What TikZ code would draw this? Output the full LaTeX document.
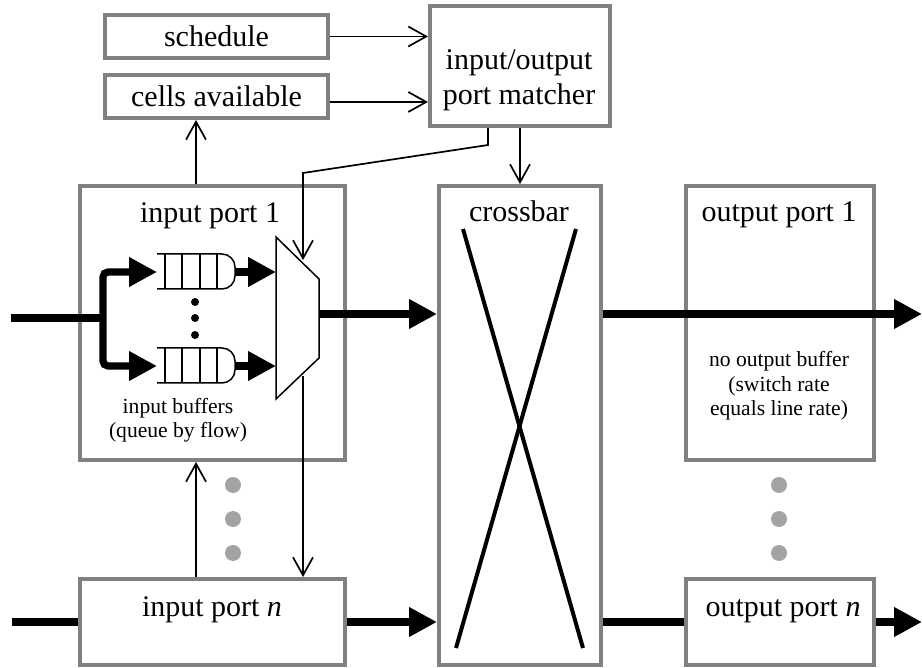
\documentclass[tikz,border=0pt]{standalone}
\usepackage{fontspec}
\setmainfont{Liberation Serif}
\usepackage{xcolor}
\usetikzlibrary{arrows.meta}
\definecolor{boxgray}{HTML}{808080}
\definecolor{dotgray}{HTML}{A3A3A3}
\tikzset{
  portbox/.style 2 args={draw=boxgray,line width=2pt,fill=white,inner sep=0pt,
    minimum width=#1*0.5pt,minimum height=#2*0.5pt,font=\fontsize{15}{17.5}\selectfont},
  title/.style={anchor=base,inner sep=0pt,font=\fontsize{15}{17.5}\selectfont},
  smalltext/.style={anchor=center,inner sep=0pt,align=center,font=\fontsize{10.8}{12.2}\selectfont},
  flow/.style={line width=3.6pt,-{Triangle[length=14pt,width=14pt]}},
  flowplain/.style={line width=3.6pt},
  ctrl/.style={line width=0.85pt,-{Straight Barb[length=9pt,width=10pt]}},
  thinline/.style={line width=0.75pt}
}
\begin{document}
\begin{tikzpicture}[x=0.5pt,y=-0.5pt]
  \useasboundingbox (0,0) rectangle (922,668);

  % Boxes
  \node[portbox={223}{43}] (schedule) at (216.5,36.5) {schedule};
  \node[portbox={223}{43}] (cells) at (216.5,96.5) {cells available};
  \node[portbox={180}{120}] (matcher) at (520,66) {};
  \node[portbox={265}{274}] (inport1) at (212.5,323) {};
  \node[portbox={265}{86}] (inportn) at (212.5,622) {};
  \node[portbox={162}{479}] (crossbar) at (520,425.5) {};
  \node[portbox={188}{274}] (outport1) at (780,323) {};
  \node[portbox={188}{86}] (outportn) at (780,622) {};

  % Box labels
  \node[smalltext,font=\fontsize{15}{17.5}\selectfont] (matcherlabel) at (519,80) {input/output\\port matcher};
  \node[title] (inport1label) at (210,223) {input port 1};
  \node[title] (inportnlabel) at (212,616) {input port \emph{n}};
  \node[title] (crossbarlabel) at (519,222) {crossbar};
  \node[title] (outport1label) at (779,222) {output port 1};
  \node[title] (outportnlabel) at (783,616) {output port \emph{n}};
  \node[smalltext] (bufferlabel) at (178,420) {input buffers\\(queue by flow)};
  \node[smalltext] (nobufferlabel) at (779,386) {no output buffer\\(switch rate\\equals line rate)};

  % Crossbar lines
  \draw[line width=2pt] (463,229) -- (583,648);
  \draw[line width=2pt] (576,229) -- (456,648);

  % Queues
  \foreach \y/\name in {254/qa,348/qb}{
    \draw[thinline,rounded corners=6.5pt] (157,\y) -- (235,\y) -- (235,\y+35) -- (157,\y+35);
    \foreach \x in {165,182,200,217}{
      \draw[thinline] (\x,\y) -- (\x,\y+35);
    }
    \coordinate (\name in) at (157,\y+18);
    \coordinate (\name out) at (235,\y+18);
    \coordinate (\name mux) at (276,\y+18);
  }
  \foreach \y in {302,318,335}{
    \fill (195,\y) circle (2pt);
  }

  % Mux
  \draw[thinline,fill=white] (276,237) -- (319,279) -- (319,358) -- (276,399) -- cycle;

  % Grey dots between the ports
  \foreach \x in {233,779}{
    \foreach \y in {485,519,553}{
      \fill[dotgray] (\x,\y) circle (4pt);
    }
  }

  % Free ends
  \coordinate (linein1) at (11,318);
  \coordinate (split) at (103,318);
  \coordinate (muxout) at (319,314);
  \coordinate (lineinn) at (12,622);
  \coordinate (lineout1) at (922,314);
  \coordinate (lineoutn) at (922,622);
  \coordinate (grantbend1) at (488,145);
  \coordinate (grantbend2) at (303,173);
  \coordinate (muxtop) at (303,260);
  \coordinate (muxbottom) at (303,376);

  % Data path
  \draw[flowplain] (linein1) -- (split);
  \draw[flow,rounded corners=2.5pt] (split) |- (qain);
  \draw[flow,rounded corners=2.5pt] (split) |- (qbin);
  \draw[flow] (qaout) -- (qamux);
  \draw[flow] (qbout) -- (qbmux);
  \draw[flow] (muxout) -- (muxout -| crossbar.west);
  \draw[flow] (muxout -| crossbar.east) -- (lineout1);
  \draw[flowplain] (lineinn) -- (inportn.west);
  \draw[flow] (inportn.east) -- (inportn.east -| crossbar.west);
  \draw[flowplain] (outportn.east -| crossbar.east) -- (outportn.west);
  \draw[flow] (outportn.east) -- (lineoutn);

  % Control path
  \draw[ctrl] (schedule.east) -- (schedule.east -| matcher.west);
  \draw[ctrl] ([yshift=-2.75pt]cells.east) -- ([yshift=-2.75pt]cells.east -| matcher.west);
  \draw[ctrl] (196,184) -- (196,120);
  \draw[ctrl] (196,577) -- (196,462);
  \draw[ctrl] (matcher.south -| crossbar.north) -- (crossbar.north);
  \draw[ctrl] (488,128) -- (grantbend1) -- (grantbend2) -- (muxtop);
  \draw[ctrl] (muxbottom) -- (muxbottom |- inportn.north);
\end{tikzpicture}
\end{document}
